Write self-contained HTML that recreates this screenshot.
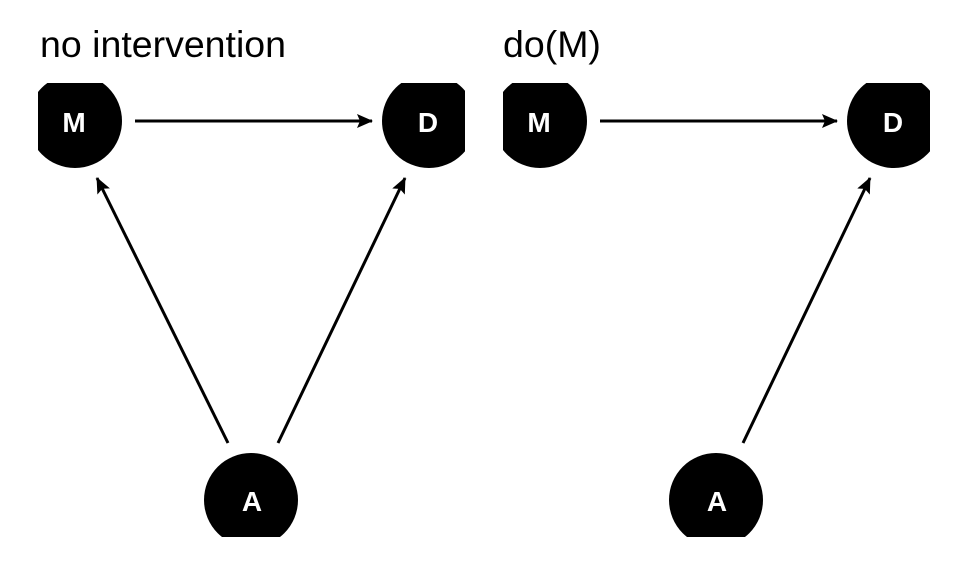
<!DOCTYPE html>
<html><head><style>html,body{margin:0;padding:0;background:#fff;}</style></head>
<body>
<svg width="960" height="576" viewBox="0 0 960 576" xmlns="http://www.w3.org/2000/svg">
<defs>
<marker id="ah" markerWidth="16" markerHeight="14" refX="15" refY="7" orient="auto" markerUnits="userSpaceOnUse">
<path d="M0,0 L16,7 L0,14 L3,7 Z" fill="#000"/>
</marker>
<clipPath id="c1"><rect x="38" y="83" width="427" height="454"/></clipPath>
<clipPath id="c2"><rect x="503" y="83" width="427" height="454"/></clipPath>
</defs>
<text x="40" y="57" font-family="Liberation Sans, sans-serif" font-size="37.5" fill="#000">no intervention</text>
<text x="503" y="57" font-family="Liberation Sans, sans-serif" font-size="37.5" fill="#000">do(M)</text>
<g stroke="#000" stroke-width="3" fill="none">
<line x1="135" y1="121" x2="372" y2="121" marker-end="url(#ah)"/>
<line x1="228" y1="443" x2="97" y2="178" marker-end="url(#ah)"/>
<line x1="278" y1="443" x2="405" y2="178" marker-end="url(#ah)"/>
<line x1="600" y1="121" x2="837" y2="121" marker-end="url(#ah)"/>
<line x1="743" y1="443" x2="870" y2="178" marker-end="url(#ah)"/>
</g>
<g clip-path="url(#c1)" fill="#000">
<circle cx="75" cy="121" r="47"/><circle cx="429" cy="121" r="47"/><circle cx="251" cy="500" r="47"/>
</g>
<g clip-path="url(#c2)" fill="#000">
<circle cx="540" cy="121" r="47"/><circle cx="894" cy="121" r="47"/><circle cx="716" cy="500" r="47"/>
</g>
<g font-family="Liberation Sans, sans-serif" font-weight="bold" font-size="28" fill="#fff" text-anchor="middle">
<text x="74" y="132">M</text><text x="428" y="132">D</text><text x="252" y="511">A</text>
<text x="539" y="132">M</text><text x="893" y="132">D</text><text x="717" y="511">A</text>
</g>
</svg>
</body></html>
